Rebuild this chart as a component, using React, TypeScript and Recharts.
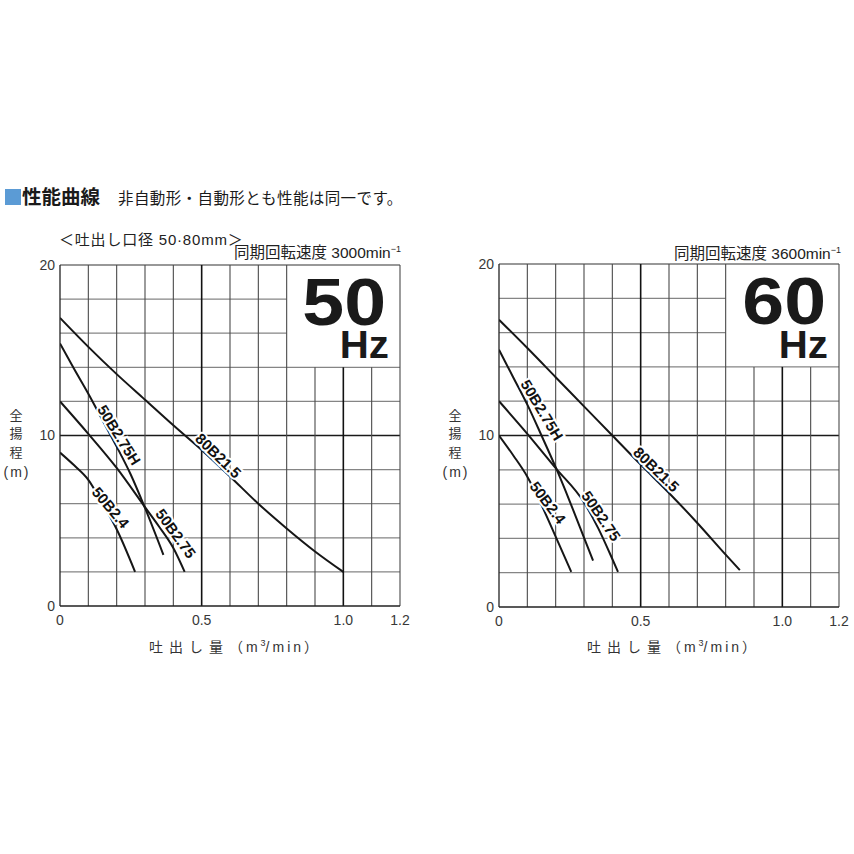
import React from "react";
import { LineChart, Line, XAxis, YAxis, ReferenceLine } from "recharts";

// ---------- data ----------
// 50 Hz
const q50_80B = [0, 0.1, 0.2, 0.3, 0.4, 0.5, 0.6, 0.7, 0.8, 0.9, 1.0];
const h50_80B = [16.9, 15.2, 13.6, 12.1, 10.6, 9.15, 7.6, 6.0, 4.55, 3.2, 2.0];
const q50_275H = [0, 0.05, 0.1, 0.15, 0.2, 0.25, 0.3, 0.365];
const h50_275H = [15.4, 13.9, 12.45, 10.9, 9.35, 7.7, 5.75, 3.0];
const q50_275 = [0, 0.1, 0.2, 0.3, 0.35, 0.4, 0.44];
const h50_275 = [12.0, 10.1, 8.1, 5.8, 4.65, 3.4, 2.0];
const q50_24 = [0, 0.05, 0.1, 0.15, 0.2, 0.265];
const h50_24 = [9.0, 8.25, 7.4, 6.0, 4.5, 2.0];
// 60 Hz
const q60_80B = [0, 0.1, 0.2, 0.3, 0.4, 0.5, 0.6, 0.7, 0.8, 0.85];
const h60_80B = [16.75, 15.1, 13.4, 11.7, 10.0, 8.3, 6.65, 4.9, 3.05, 2.15];
const q60_275H = [0, 0.05, 0.1, 0.15, 0.2, 0.25, 0.3, 0.332];
const h60_275H = [15.0, 13.4, 11.8, 10.0, 8.15, 6.15, 4.05, 2.7];
const q60_275 = [0, 0.1, 0.2, 0.3, 0.35, 0.4, 0.42];
const h60_275 = [12.0, 10.1, 8.1, 6.1, 4.6, 2.8, 2.05];
const q60_24 = [0, 0.05, 0.1, 0.15, 0.2, 0.255];
const h60_24 = [10.0, 8.85, 7.6, 5.95, 4.1, 2.05];

// curve names and label anchor points (data coords)
const curveNames = ["80B21.5", "50B2.75H", "50B2.75", "50B2.4"];
const labelQ50 = [0.559, 0.209, 0.409, 0.179];
const labelH50 = [8.82, 10.03, 4.26, 5.78];
const labelQ60 = [0.556, 0.152, 0.361, 0.173];
const labelH60 = [8.03, 11.49, 5.31, 6.09];
const labelAngle50 = [44, 58, 54, 50];
const labelAngle60 = [44, 59, 56, 53];

// axis ticks and grid values
const xTicks = [0, 0.5, 1.0, 1.2];
const yTicks = [0, 10, 20];
const gridX = [0.1, 0.2, 0.3, 0.4, 0.5, 0.6, 0.7, 0.8, 0.9, 1.0, 1.1, 1.2];
const gridY = [2, 4, 6, 8, 10, 12, 14, 16, 18, 20];
const majorX = [0.5, 1.0];
const majorY = [10];

const zip = (q: number[], h: number[]) => q.map((v, i) => ({ q: v, h: h[i] }));

const FONT = "'Liberation Sans', Arial, 'Noto Sans CJK JP', sans-serif";
const JP = "'Noto Sans CJK JP', 'Liberation Sans', sans-serif";

// label box corner (upper-right area reserved for the Hz label)
const BOX_X = 0.8;
const BOX_Y = 14;

type ChartProps = {
  series: { q: number[]; h: number[] }[];
  labelQ: number[];
  labelH: number[];
  labelAngle: number[];
  width: number;
  height: number;
};

function PerfChart({ series, labelQ, labelH, labelAngle, width, height }: ChartProps) {
  const renderLabel = (i: number) => (p: any) => (
    <text
      key={"lbl" + i}
      x={p.cx}
      y={p.cy}
      transform={`rotate(${labelAngle[i]} ${p.cx} ${p.cy})`}
      textAnchor="middle"
      dominantBaseline="central"
      fontFamily={FONT}
      fontWeight="bold"
      fontSize={15}
      fill="#111"
      stroke="#fff"
      strokeWidth={4}
      paintOrder="stroke"
    >
      {curveNames[i]}
    </text>
  );
  return (
    <LineChart width={width} height={height} margin={{ top: 15, right: 20, bottom: 14, left: 30 }}>
      <XAxis
        type="number"
        dataKey="q"
        domain={[0, 1.2]}
        ticks={xTicks}
        interval={0}
        tickFormatter={(v: number) => (v === 0 ? "0" : v.toFixed(1))}
        tickLine={false}
        tickSize={0}
        tickMargin={9}
        height={30}
        axisLine={{ stroke: "#222", strokeWidth: 1.3 }}
        tick={{ fontSize: 14, fill: "#383838", fontFamily: FONT }}
        allowDataOverflow
      />
      <YAxis
        type="number"
        dataKey="h"
        domain={[0, 20]}
        ticks={yTicks}
        interval={0}
        tickLine={false}
        tickSize={0}
        tickMargin={5}
        width={30}
        axisLine={{ stroke: "#222", strokeWidth: 1.3 }}
        tick={{ fontSize: 14, fill: "#383838", fontFamily: FONT }}
        allowDataOverflow
      />
      {gridY.map((y) => {
        const short = y > BOX_Y && y < 20;
        const major = majorY.includes(y);
        return (
          <ReferenceLine
            key={"gy" + y}
            segment={[
              { x: 0, y },
              { x: short ? BOX_X : 1.2, y },
            ]}
            stroke={major ? "#1a1a1a" : y === 20 ? "#333" : "#858585"}
            strokeWidth={major ? 1.6 : 1.2}
          />
        );
      })}
      {gridX.map((x) => {
        const short = x > BOX_X && x < 1.2;
        const major = majorX.includes(x);
        return (
          <ReferenceLine
            key={"gx" + x}
            segment={[
              { x, y: 0 },
              { x, y: short ? BOX_Y : 20 },
            ]}
            stroke={major ? "#111" : "#4a4a4a"}
            strokeWidth={major ? 1.6 : 1.1}
          />
        );
      })}
      {series.map((s, i) => (
        <Line
          key={"s" + i}
          data={zip(s.q, s.h)}
          dataKey="h"
          type="monotone"
          stroke="#161616"
          strokeWidth={2}
          dot={false}
          activeDot={false}
          isAnimationActive={false}
        />
      ))}
      {curveNames.map((name, i) => (
        <Line
          key={"l" + i}
          data={[{ q: labelQ[i], h: labelH[i] }]}
          dataKey="h"
          stroke="none"
          dot={renderLabel(i)}
          activeDot={false}
          isAnimationActive={false}
        />
      ))}
    </LineChart>
  );
}

export default function App() {
  const series50 = [
    { q: q50_80B, h: h50_80B },
    { q: q50_275H, h: h50_275H },
    { q: q50_275, h: h50_275 },
    { q: q50_24, h: h50_24 },
  ];
  const series60 = [
    { q: q60_80B, h: h60_80B },
    { q: q60_275H, h: h60_275H },
    { q: q60_275, h: h60_275 },
    { q: q60_24, h: h60_24 },
  ];
  const yLabel = (cx: number) => (
    <g fontFamily={JP} fontSize={13} fill="#333" textAnchor="middle">
      <text x={cx} y={420}>全</text>
      <text x={cx} y={438}>揚</text>
      <text x={cx} y={457}>程</text>
      <text x={cx + 1} y={477} fontFamily={FONT} fontSize={14} letterSpacing={2}>(m)</text>
    </g>
  );
  const xLabel = (cx: number) => (
    <text x={cx} y={652} textAnchor="middle" fontFamily={JP} fontSize={14} fill="#333">
      <tspan letterSpacing={6}>吐出し量</tspan>
      <tspan fontFamily={FONT} letterSpacing={3}>（m</tspan>
      <tspan fontFamily={FONT} fontSize={9} dy={-6}>3</tspan>
      <tspan fontFamily={FONT} letterSpacing={3} dy={6}>/min）</tspan>
    </text>
  );
  return (
    <div style={{ position: "absolute", left: 0, top: 0, width: 854, height: 854, background: "#fff" }}>
      <div style={{ position: "absolute", left: 0, top: 250 }}>
        <PerfChart series={series50} labelQ={labelQ50} labelH={labelH50} labelAngle={labelAngle50} width={420} height={400} />
      </div>
      <div style={{ position: "absolute", left: 439, top: 249 }}>
        <PerfChart series={series60} labelQ={labelQ60} labelH={labelH60} labelAngle={labelAngle60} width={420} height={402} />
      </div>
      <svg width={854} height={854} style={{ position: "absolute", left: 0, top: 0, pointerEvents: "none" }}>
        <rect x={5} y={189} width={16} height={16} fill="#5b9bd5" />
        <text x={22} y={204} fontFamily={JP} fontWeight="bold" fontSize={19.5} fill="#1a1a1a">性能曲線</text>
        <text x={118} y={204} fontFamily={JP} fontSize={15.5} letterSpacing={0.4} fill="#1a1a1a">非自動形・自動形とも性能は同一です。</text>

        <text x={59} y={245} fontFamily={FONT} fontSize={15} letterSpacing={0.8} fill="#222">＜吐出し口径  50·80mm＞</text>
        <text x={401} y={258} textAnchor="end" fontFamily={FONT} fontSize={15.5} fill="#222">
          同期回転速度 3000min<tspan fontSize={9} dy={-6}>−1</tspan>
        </text>
        <text x={841} y={259} textAnchor="end" fontFamily={FONT} fontSize={15.5} fill="#222">
          同期回転速度 3600min<tspan fontSize={9} dy={-6}>−1</tspan>
        </text>

        <text transform="translate(386,325) scale(1.14,1)" textAnchor="end" fontFamily={FONT} fontWeight="bold" fontSize={66} fill="#1a1a1a">50</text>
        <text transform="translate(389,358) scale(1.06,1)" textAnchor="end" fontFamily={FONT} fontWeight="bold" fontSize={38} fill="#1a1a1a">Hz</text>
        <text transform="translate(826,324) scale(1.14,1)" textAnchor="end" fontFamily={FONT} fontWeight="bold" fontSize={66} fill="#1a1a1a">60</text>
        <text transform="translate(828,358) scale(1.06,1)" textAnchor="end" fontFamily={FONT} fontWeight="bold" fontSize={38} fill="#1a1a1a">Hz</text>

        {yLabel(16)}
        {yLabel(455)}
        {xLabel(235)}
        {xLabel(673)}
      </svg>
    </div>
  );
}
